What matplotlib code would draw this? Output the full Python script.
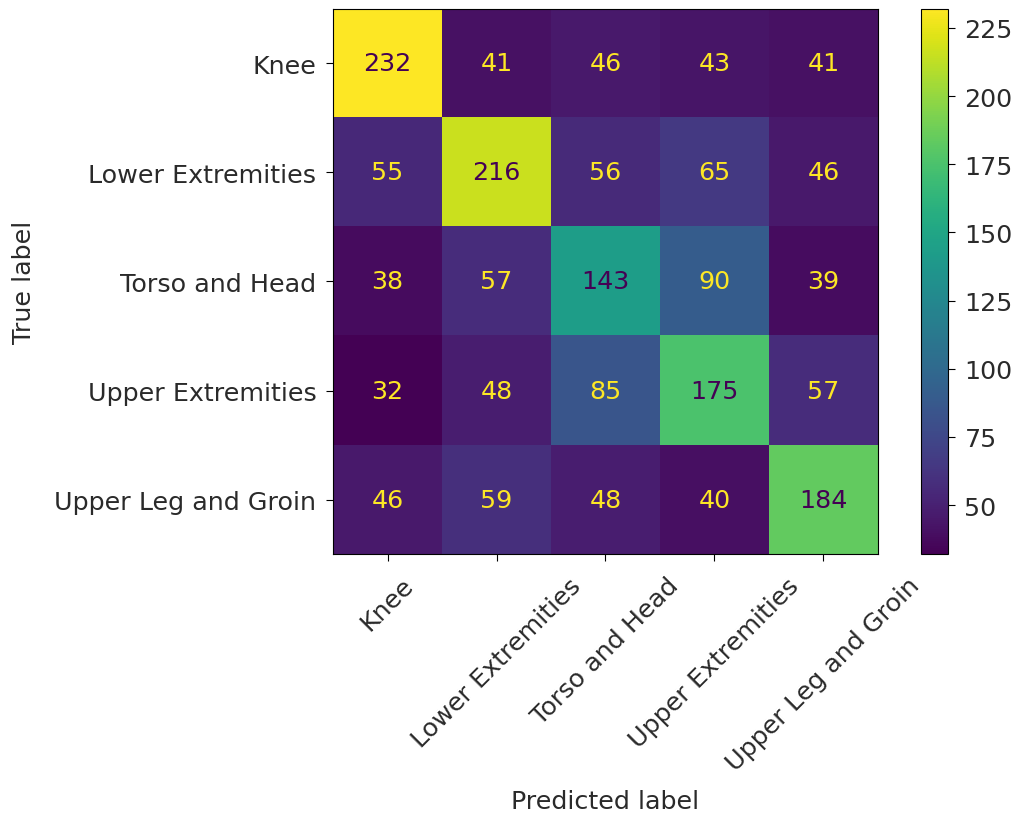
import numpy as np
import matplotlib
matplotlib.use("Agg")
import matplotlib.pyplot as plt

labels = ["Knee", "Lower Extremities", "Torso and Head", "Upper Extremities", "Upper Leg and Groin"]
cm = np.array([
    [232, 41, 46, 43, 41],
    [55, 216, 56, 65, 46],
    [38, 57, 143, 90, 39],
    [32, 48, 85, 175, 57],
    [46, 59, 48, 40, 184],
])

fs = 18.3
plt.rcParams['font.size'] = fs
plt.rcParams['text.color'] = '#2a2a2a'
plt.rcParams['axes.labelcolor'] = '#2a2a2a'
plt.rcParams['xtick.labelcolor'] = '#2a2a2a'
plt.rcParams['ytick.labelcolor'] = '#2a2a2a'
plt.rcParams['xtick.major.size'] = 5
plt.rcParams['ytick.major.size'] = 5
plt.rcParams['xtick.major.pad'] = 8.5
plt.rcParams['ytick.major.pad'] = 7
fig = plt.figure(figsize=(10.28, 8.2), dpi=100)
ax = fig.add_axes([0.324, 0.323, 0.530, 0.665])
cax = fig.add_axes([0.896, 0.323, 0.026, 0.665])

cmap = plt.get_cmap('viridis')
im = ax.imshow(cm, cmap=cmap, aspect='auto')
vmin, vmax = cm.min(), cm.max()
thresh = (vmin + vmax) / 2
for i in range(cm.shape[0]):
    for j in range(cm.shape[1]):
        color = cmap(0.0) if cm[i, j] >= thresh else cmap(1.0)
        ax.text(j, i, str(cm[i, j]), ha='center', va='center', color=color, fontsize=fs)

ax.set_xticks(range(len(labels)))
ax.set_xticklabels(labels, rotation=45)
ax.set_yticks(range(len(labels)))
ax.set_yticklabels(labels)
ax.set_xlabel("Predicted label", labelpad=10)
ax.set_ylabel("True label", labelpad=13.5)

cb = fig.colorbar(im, cax=cax)
cb.set_ticks([50, 75, 100, 125, 150, 175, 200, 225])
cb.ax.tick_params(pad=7)

fig.savefig("out.png", dpi=100)
